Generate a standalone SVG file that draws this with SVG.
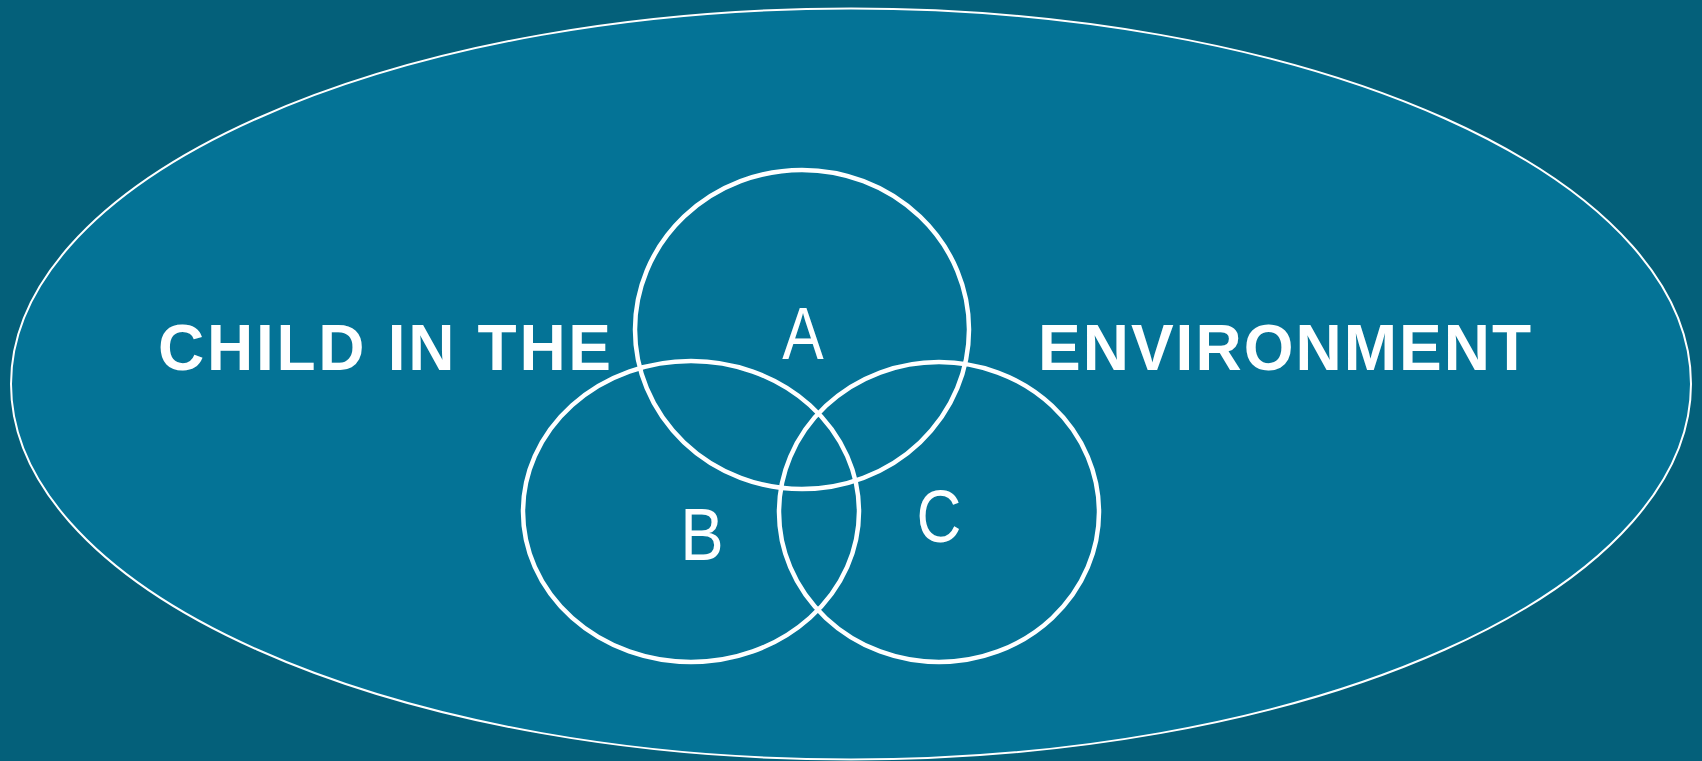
<svg xmlns="http://www.w3.org/2000/svg" width="1702" height="761" viewBox="0 0 1702 761">
<style>
.venn{fill:none;stroke:#ffffff;stroke-width:4.5}
.title{font-family:"Liberation Sans",Arial,sans-serif;font-weight:bold;font-size:64px;fill:#ffffff}
.lbl{font-family:"Liberation Sans",Arial,sans-serif;font-size:74px;fill:#ffffff;text-anchor:middle}
</style>
<rect x="0" y="0" width="1702" height="761" fill="#04607a"/>
<g id="environment">
<ellipse cx="851" cy="384" rx="840" ry="375.5" fill="#047396" stroke="#ffffff" stroke-width="2"/>
</g>
<g id="title-left"><text class="title" x="158" y="370" textLength="453" lengthAdjust="spacing">CHILD IN THE</text></g>
<g id="title-right"><text class="title" x="1038" y="370" textLength="493" lengthAdjust="spacing">ENVIRONMENT</text></g>
<g id="circle-a"><ellipse class="venn" cx="802" cy="329.5" rx="167" ry="159.5"/>
<text class="lbl" transform="translate(803,359) scale(0.84,1)">A</text></g>
<g id="circle-b"><ellipse class="venn" cx="691" cy="511.5" rx="168" ry="150.5"/>
<text class="lbl" transform="translate(702,560) scale(0.88,1)">B</text></g>
<g id="circle-c"><ellipse class="venn" cx="939" cy="512" rx="160" ry="150"/>
<text class="lbl" transform="translate(939,542) scale(0.84,1)">C</text></g>
<g id="connectors"></g>
</svg>
